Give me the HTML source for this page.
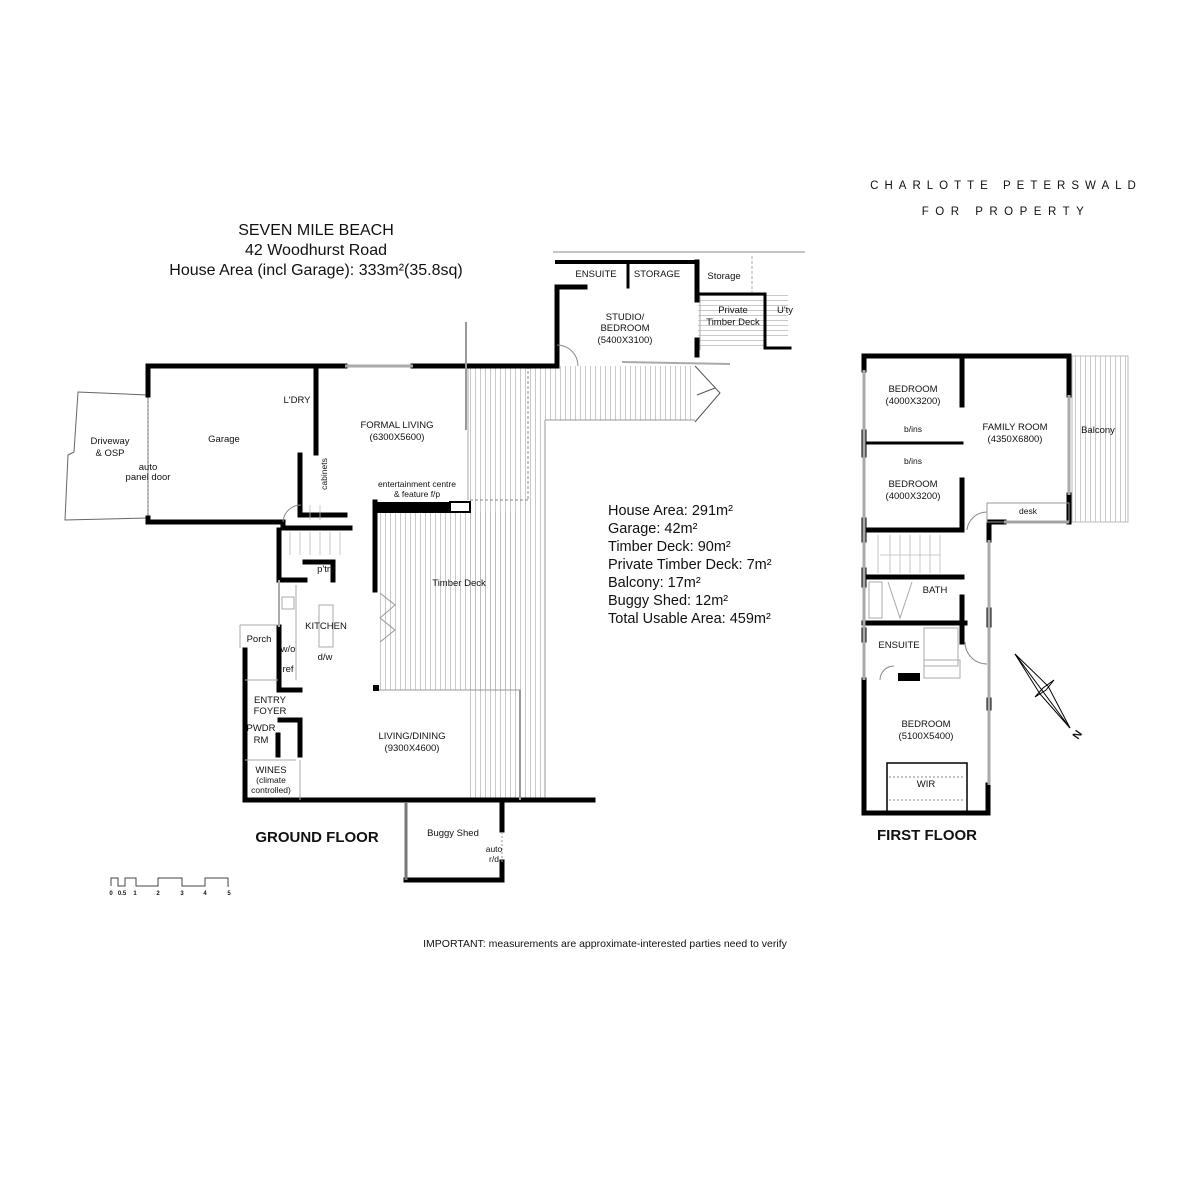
<!DOCTYPE html>
<html><head><meta charset="utf-8"><style>
html,body{margin:0;padding:0;background:#fff;}
svg{display:block;}
text{font-family:"Liberation Sans",sans-serif;fill:#111;}
</style></head><body>
<svg width="1200" height="1200" viewBox="0 0 1200 1200" xmlns="http://www.w3.org/2000/svg">
<defs>
<pattern id="vh" width="5" height="10" patternUnits="userSpaceOnUse"><line x1="0.5" y1="0" x2="0.5" y2="10" stroke="#bbb" stroke-width="0.8"/></pattern>
<pattern id="hh" width="10" height="5" patternUnits="userSpaceOnUse"><line x1="0" y1="0.5" x2="10" y2="0.5" stroke="#bbb" stroke-width="0.8"/></pattern>
</defs>

<!-- brand -->
<text x="1006" y="189" font-size="11.5" text-anchor="middle" letter-spacing="6" fill="#444">CHARLOTTE PETERSWALD</text>
<text x="1006" y="215" font-size="11.5" text-anchor="middle" letter-spacing="6.5" fill="#444">FOR PROPERTY</text>

<!-- title -->
<text x="316" y="235" font-size="16" text-anchor="middle">SEVEN MILE BEACH</text>
<text x="316" y="255" font-size="16" text-anchor="middle">42 Woodhurst Road</text>
<text x="316" y="275" font-size="16" text-anchor="middle">House Area (incl Garage): 333m²(35.8sq)</text>

<!-- stats -->
<g font-size="14.5">
<text x="608" y="515">House Area: 291m²</text>
<text x="608" y="533">Garage: 42m²</text>
<text x="608" y="551">Timber Deck: 90m²</text>
<text x="608" y="569">Private Timber Deck: 7m²</text>
<text x="608" y="587">Balcony: 17m²</text>
<text x="608" y="605">Buggy Shed: 12m²</text>
<text x="608" y="623">Total Usable Area: 459m²</text>
</g>

<!-- ===== GROUND FLOOR ===== -->
<rect x="468" y="366" width="77" height="434" fill="url(#vh)"/>
<rect x="545" y="366" width="150" height="54" fill="url(#vh)"/>
<rect x="378" y="512" width="142" height="178" fill="url(#vh)"/>
<rect x="698" y="294" width="66" height="54" fill="url(#hh)"/>
<rect x="766" y="292" width="22" height="45" fill="url(#hh)"/>
<line x1="468" y1="366" x2="468" y2="500" stroke="#aaa"/>
<line x1="545" y1="420" x2="545" y2="800" stroke="#999"/>
<line x1="545" y1="420" x2="695" y2="420" stroke="#999"/>
<line x1="470" y1="500" x2="528" y2="500" stroke="#888" stroke-dasharray="3,2"/>
<line x1="528" y1="366" x2="528" y2="500" stroke="#888" stroke-dasharray="3,2"/>
<polyline points="695,366 720,393 695,422" fill="none" stroke="#555"/>
<line x1="697" y1="395" x2="715" y2="388" stroke="#555"/>

<polygon points="78,392 148,395 148,518 65,520 68,455 74,452" fill="none" stroke="#666"/>
<line x1="148" y1="395" x2="148" y2="518" stroke="#888" stroke-dasharray="2,2"/>

<g stroke="#000" stroke-width="5" fill="none" stroke-linecap="square">
<polyline points="148,395 148,366 345,366"/>
<polyline points="148,518 148,522 283,522"/>
<line x1="413" y1="366" x2="557" y2="366"/>
<line x1="316" y1="366" x2="316" y2="453"/>
<polyline points="300,455 300,515 345,515"/>
<polyline points="557,366 557,287 585,287"/>
<line x1="557" y1="262" x2="697" y2="262" stroke-width="4"/>
<line x1="697" y1="262" x2="697" y2="300"/>
<line x1="697" y1="340" x2="697" y2="355"/>
<line x1="628" y1="262" x2="628" y2="287" stroke-width="3"/>
<polyline points="700,294 765,294 765,348 790,348" stroke-width="3"/>
<line x1="375" y1="502" x2="375" y2="590"/>
<polyline points="283,522 283,528 350,528"/>
<polyline points="279,530 279,580 305,580"/>
<polyline points="305,562 333,562 333,580"/>
<line x1="279" y1="627" x2="279" y2="690"/>
<line x1="279" y1="690" x2="300" y2="690"/>
<polyline points="245,650 245,800 593,800"/>
<polyline points="280,720 300,720 300,755"/>
<line x1="278" y1="735" x2="278" y2="755"/>
<polyline points="406,880 502,880 502,862"/>
<line x1="502" y1="800" x2="502" y2="830"/>
</g>
<line x1="406" y1="802" x2="406" y2="880" stroke-width="3" stroke="#777"/>
<line x1="502" y1="832" x2="502" y2="862" stroke="#999" stroke-dasharray="2,2"/>
<rect x="373" y="502" width="77" height="11" fill="#000"/>
<rect x="450" y="502" width="20" height="10" fill="none" stroke="#000" stroke-width="2"/>
<rect x="373" y="685" width="6" height="6" fill="#000"/>
<line x1="345" y1="366" x2="413" y2="366" stroke="#aaa" stroke-width="3"/>
<line x1="466" y1="322" x2="466" y2="430" stroke="#999" stroke-width="2"/>
<line x1="520" y1="690" x2="520" y2="800" stroke="#999" stroke-width="2"/>
<line x1="379" y1="690" x2="520" y2="690" stroke="#999" stroke-width="1"/>
<line x1="279" y1="580" x2="279" y2="627" stroke="#aaa" stroke-width="2"/>
<line x1="296" y1="585" x2="296" y2="680" stroke="#aaa"/>
<polyline points="380,593 395,605 380,618 395,630 380,642" fill="none" stroke="#999"/>
<g stroke="#bbb" stroke-width="0.8">
<line x1="290" y1="532" x2="290" y2="555"/><line x1="300" y1="532" x2="300" y2="555"/><line x1="310" y1="532" x2="310" y2="555"/><line x1="320" y1="532" x2="320" y2="555"/><line x1="330" y1="532" x2="330" y2="555"/><line x1="340" y1="532" x2="340" y2="555"/>
<line x1="310" y1="505" x2="310" y2="520"/><line x1="320" y1="505" x2="320" y2="520"/>
</g>
<rect x="319" y="605" width="14" height="42" fill="none" stroke="#aaa"/>
<rect x="282" y="597" width="12" height="12" fill="none" stroke="#aaa"/>
<line x1="240" y1="625" x2="278" y2="625" stroke="#aaa"/>
<line x1="240" y1="625" x2="240" y2="648" stroke="#aaa"/>
<line x1="245" y1="760" x2="296" y2="760" stroke="#aaa"/>
<line x1="245" y1="680" x2="278" y2="680" stroke="#aaa"/>
<line x1="300" y1="760" x2="300" y2="800" stroke="#aaa"/>
<path d="M557,345 A21,21 0 0 1 578,366" fill="none" stroke="#888"/>
<path d="M283,522 A18,18 0 0 1 301,505" fill="none" stroke="#888"/>

<g font-size="9.5" text-anchor="middle">
<text x="110" y="444">Driveway</text><text x="110" y="456">&amp; OSP</text>
<text x="148" y="470">auto</text><text x="148" y="480">panel door</text>
<text x="224" y="442">Garage</text>
<text x="297" y="403">L'DRY</text>
<text x="397" y="428">FORMAL LIVING</text><text x="397" y="440">(6300X5600)</text>
<text x="417" y="487" font-size="8.5">entertainment centre</text><text x="417" y="497" font-size="8.5">&amp; feature f/p</text>
<text x="327" y="474" font-size="8.5" transform="rotate(-90 327 474)">cabinets</text>
<text x="326" y="572">p'try</text>
<text x="459" y="586">Timber Deck</text>
<text x="326" y="629">KITCHEN</text>
<text x="325" y="660">d/w</text>
<text x="288" y="652">w/o</text>
<text x="288" y="672">ref</text>
<text x="259" y="642">Porch</text>
<text x="270" y="703">ENTRY</text><text x="270" y="714">FOYER</text>
<text x="261" y="731">PWDR</text><text x="261" y="743">RM</text>
<text x="271" y="773">WINES</text><text x="271" y="783" font-size="8.5">(climate</text><text x="271" y="793" font-size="8.5">controlled)</text>
<text x="412" y="739">LIVING/DINING</text><text x="412" y="751">(9300X4600)</text>
<text x="453" y="836">Buggy Shed</text>
<text x="494" y="852" font-size="8.5">auto</text><text x="494" y="862" font-size="8.5">r/d</text>
<text x="596" y="277">ENSUITE</text>
<text x="657" y="277">STORAGE</text>
<text x="724" y="279">Storage</text>
<text x="625" y="320">STUDIO/</text><text x="625" y="331">BEDROOM</text><text x="625" y="343">(5400X3100)</text>
<text x="733" y="313">Private</text><text x="733" y="325">Timber Deck</text>
<text x="785" y="313">U'ty</text>
</g>
<line x1="553" y1="252" x2="805" y2="252" stroke="#888"/>
<line x1="752" y1="256" x2="752" y2="292" stroke="#aaa" stroke-dasharray="3,2"/>
<line x1="700" y1="296" x2="700" y2="350" stroke="#aaa"/>
<line x1="622" y1="362" x2="730" y2="364" stroke="#aaa" stroke-width="2"/>

<text x="317" y="842" font-size="15" font-weight="bold" text-anchor="middle">GROUND FLOOR</text>

<polyline points="111,886 111,878 118,878 118,886 125,886 125,878 136,878 136,886 158,886 158,878 182,878 182,886 205,886 205,878 228,878 228,886 229,886" fill="none" stroke="#444" stroke-width="1"/>
<g font-size="6" text-anchor="middle" font-weight="bold"><text x="111" y="895">0</text><text x="122" y="895">0.5</text><text x="135" y="895">1</text><text x="158" y="895">2</text><text x="182" y="895">3</text><text x="205" y="895">4</text><text x="229" y="895">5</text></g>

<text x="605" y="947" font-size="10.5" text-anchor="middle">IMPORTANT: measurements are approximate-interested parties need to verify</text>

<!-- ===== FIRST FLOOR ===== -->
<rect x="1072" y="356" width="56" height="166" fill="url(#vh)" stroke="#bbb"/>
<g stroke="#000" stroke-width="5" fill="none" stroke-linecap="square">
<polyline points="864,370 864,356 1069,356 1069,395"/>
<line x1="1069" y1="495" x2="1069" y2="522"/>
<line x1="962" y1="356" x2="962" y2="405"/>
<line x1="962" y1="480" x2="962" y2="530"/>
<line x1="864" y1="432" x2="864" y2="455"/>
<line x1="866" y1="443" x2="962" y2="443" stroke-width="3"/>
<polyline points="864,530 962,530"/>
<polyline points="989,522 1004,522"/>
<line x1="989" y1="522" x2="989" y2="540"/>
<line x1="864" y1="577" x2="962" y2="577"/>
<line x1="864" y1="623" x2="965" y2="623"/>
<line x1="962" y1="597" x2="962" y2="623"/>
<line x1="962" y1="625" x2="962" y2="642"/>
<line x1="989" y1="610" x2="989" y2="625"/>
<line x1="989" y1="700" x2="989" y2="708"/>
<polyline points="864,680 864,813 988,813 988,785"/>
<line x1="864" y1="630" x2="864" y2="640"/>
<line x1="864" y1="520" x2="864" y2="540"/>
<line x1="864" y1="570" x2="864" y2="585"/>
</g>
<line x1="864" y1="370" x2="864" y2="680" stroke="#aaa" stroke-width="3"/>
<line x1="989" y1="540" x2="989" y2="785" stroke="#aaa" stroke-width="3"/>
<line x1="1069" y1="395" x2="1069" y2="495" stroke="#aaa" stroke-width="3"/>
<line x1="1004" y1="522" x2="1069" y2="522" stroke="#aaa" stroke-width="3"/>
<rect x="987" y="503" width="82" height="19" fill="none" stroke="#999"/>
<rect x="898" y="673" width="22" height="8" fill="#000"/>
<rect x="887" y="763" width="80" height="50" fill="none" stroke="#000" stroke-width="1.5"/>
<line x1="889" y1="777" x2="965" y2="777" stroke="#888" stroke-dasharray="2,2"/>
<line x1="889" y1="800" x2="965" y2="800" stroke="#888" stroke-dasharray="2,2"/>
<g stroke="#bbb" stroke-width="0.8">
<line x1="878" y1="535" x2="878" y2="573"/><line x1="890" y1="535" x2="890" y2="573"/><line x1="900" y1="535" x2="900" y2="573"/><line x1="910" y1="535" x2="910" y2="573"/><line x1="920" y1="535" x2="920" y2="573"/><line x1="930" y1="535" x2="930" y2="573"/><line x1="940" y1="535" x2="940" y2="573"/>
<line x1="880" y1="555" x2="940" y2="555"/>
</g>
<rect x="869" y="582" width="13" height="36" fill="none" stroke="#aaa"/>
<polyline points="888,582 900,618 912,582" fill="none" stroke="#aaa"/>
<rect x="924" y="628" width="34" height="38" fill="none" stroke="#aaa"/>
<rect x="924" y="660" width="36" height="18" fill="none" stroke="#aaa"/>
<path d="M965,642 A22,22 0 0 0 987,664" fill="none" stroke="#888"/>
<path d="M967,530 A20,20 0 0 1 987,512" fill="none" stroke="#888"/>
<path d="M880,680 A14,14 0 0 1 894,666" fill="none" stroke="#888"/>
<g font-size="9.5" text-anchor="middle">
<text x="913" y="392">BEDROOM</text><text x="913" y="404">(4000X3200)</text>
<text x="913" y="432" font-size="8.5">b/ins</text>
<text x="913" y="464" font-size="8.5">b/ins</text>
<text x="913" y="487">BEDROOM</text><text x="913" y="499">(4000X3200)</text>
<text x="1015" y="430">FAMILY ROOM</text><text x="1015" y="442">(4350X6800)</text>
<text x="1098" y="433">Balcony</text>
<text x="1028" y="514" font-size="8.5">desk</text>
<text x="935" y="593">BATH</text>
<text x="899" y="648">ENSUITE</text>
<text x="926" y="727">BEDROOM</text><text x="926" y="739">(5100X5400)</text>
<text x="926" y="787">WIR</text>
</g>
<text x="927" y="840" font-size="15" font-weight="bold" text-anchor="middle">FIRST FLOOR</text>

<g stroke="#000" stroke-width="1" fill="none">
<polygon points="1015,654 1048,686 1070,728 1040,694"/>
<polygon points="1054,680 1046,690 1035,697 1043,688"/>
<line x1="1015" y1="654" x2="1070" y2="728"/>
</g>
<text x="1078" y="740" font-size="11" font-weight="bold" transform="rotate(-55 1078 740)">N</text>
</svg>
</body></html>
